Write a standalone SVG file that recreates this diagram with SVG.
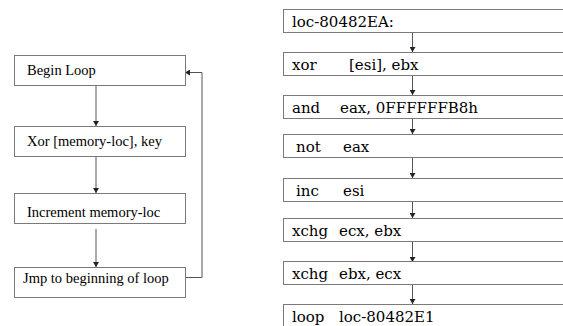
<svg xmlns="http://www.w3.org/2000/svg" width="563" height="326" viewBox="0 0 563 326">
<style>
.box{fill:#fff;stroke:#7a7a7a;stroke-width:1}
.lt{font-family:"Liberation Serif","Times New Roman",serif;font-size:14.5px;fill:#000}
.rt{font-family:"DejaVu Serif","Liberation Serif",serif;font-size:15px;fill:#000}
.cn{fill:none;stroke:#555;stroke-width:1}
</style>
<defs>
<marker id="ah" markerWidth="6" markerHeight="6" refX="5" refY="3" orient="auto" markerUnits="userSpaceOnUse">
<path d="M0,0 L5,3 L0,6 Z" fill="#222"/>
</marker>
</defs>
<rect width="563" height="326" fill="#fff"/>
<g id="connectors">
<line class="cn" x1="96" y1="86" x2="96" y2="126" marker-end="url(#ah)"/>
<line class="cn" x1="96" y1="156" x2="96" y2="193" marker-end="url(#ah)"/>
<line class="cn" x1="96" y1="229" x2="96" y2="267" marker-end="url(#ah)"/>
<polyline class="cn" points="185,277.5 202,277.5 202,72.5 185,72.5" marker-end="url(#ah)"/>
<line class="cn" x1="412.5" y1="32" x2="412.5" y2="52" marker-end="url(#ah)"/>
<line class="cn" x1="412.5" y1="76" x2="412.5" y2="95" marker-end="url(#ah)"/>
<line class="cn" x1="412.5" y1="119" x2="412.5" y2="134" marker-end="url(#ah)"/>
<line class="cn" x1="412.5" y1="158" x2="412.5" y2="178" marker-end="url(#ah)"/>
<line class="cn" x1="412.5" y1="202" x2="412.5" y2="218" marker-end="url(#ah)"/>
<line class="cn" x1="412.5" y1="241" x2="412.5" y2="262" marker-end="url(#ah)"/>
<line class="cn" x1="412.5" y1="284" x2="412.5" y2="304" marker-end="url(#ah)"/>
</g>
<g id="begin-loop"><rect class="box" x="14.5" y="55.5" width="171" height="30"/><text class="lt" x="27" y="75">Begin Loop</text></g>
<g id="xor-mem"><rect class="box" x="14.5" y="126.5" width="171" height="30"/><text class="lt" x="27" y="146">Xor [memory-loc], key</text></g>
<g id="increment"><rect class="box" x="14.5" y="193.5" width="171" height="30"/><text class="lt" x="27" y="217">Increment memory-loc</text></g>
<g id="jmp"><rect class="box" x="14.5" y="267.5" width="171" height="30"/><text class="lt" x="23" y="283">Jmp to beginning of loop</text></g>
<g id="r-loc"><rect class="box" x="283.5" y="9.5" width="290" height="23"/><text class="rt" x="292" y="26.5">loc-80482EA:</text></g>
<g id="r-xor"><rect class="box" x="283.5" y="52.5" width="290" height="23"/><text class="rt" x="292" y="69.5">xor</text><text class="rt" x="349" y="69.5">[esi], ebx</text></g>
<g id="r-and"><rect class="box" x="283.5" y="95.5" width="290" height="23"/><text class="rt" x="292" y="112.5">and</text><text class="rt" x="340" y="112.5">eax, 0FFFFFFB8h</text></g>
<g id="r-not"><rect class="box" x="283.5" y="134.5" width="290" height="23"/><text class="rt" x="296" y="151.5">not</text><text class="rt" x="343" y="151.5">eax</text></g>
<g id="r-inc"><rect class="box" x="283.5" y="178.5" width="290" height="23"/><text class="rt" x="296" y="195.5">inc</text><text class="rt" x="343" y="195.5">esi</text></g>
<g id="r-xchg1"><rect class="box" x="283.5" y="218.5" width="290" height="23"/><text class="rt" x="292" y="235.5">xchg</text><text class="rt" x="339" y="235.5">ecx, ebx</text></g>
<g id="r-xchg2"><rect class="box" x="283.5" y="261.5" width="290" height="23"/><text class="rt" x="292" y="278.5">xchg</text><text class="rt" x="339" y="278.5">ebx, ecx</text></g>
<g id="r-loop"><rect class="box" x="283.5" y="304.5" width="290" height="23"/><text class="rt" x="292" y="321.5">loop</text><text class="rt" x="339" y="321.5">loc-80482E1</text></g>
</svg>
